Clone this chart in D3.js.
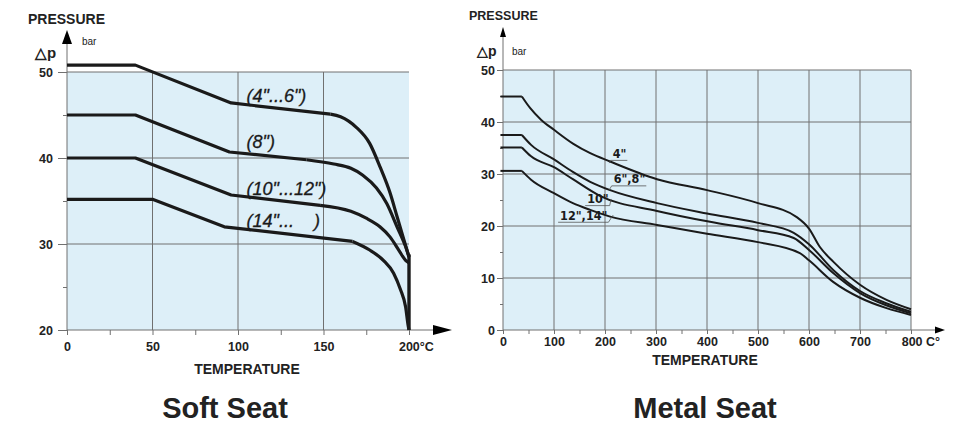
<!DOCTYPE html>
<html>
<head>
<meta charset="utf-8">
<script src="https://cdn.jsdelivr.net/npm/d3@7"></script>
<style>
    body { margin: 0; background: #fff; }
    svg { display: block; font-family: "Liberation Sans", Arial, Helvetica, sans-serif; }
</style>
</head>
<body>
<script>
// soft seat curves : [temperature °C, pressure bar]
var soft_4_6 = [[0, 50.8], [40, 50.8], [96, 46.4], [154, 45.1], [160, 44.8], [169, 43.6], [177, 41.7], [183, 39.0], [189, 35.9], [193, 33.2], [197, 30.5], [200, 28.5]];
var soft_8 = [[0, 45], [40, 45], [95, 40.7], [140, 39.8], [156, 39.3], [166, 38.8], [173, 38.0], [181, 36.5], [187, 34.7], [193, 32.0], [198, 29.7], [200, 28.5]];
var soft_10_12 = [[0, 40], [40, 40], [96, 35.7], [148, 34.5], [166, 33.8], [175, 33.0], [183, 32.0], [189, 30.8], [194, 29.3], [198, 28.1], [200, 27.8]];
var soft_14 = [[0, 35.2], [50, 35.2], [92, 32.0], [167, 30.3], [177, 29.3], [185, 28.1], [191, 26.6], [195, 24.7], [198, 22.7], [199.6, 20.4], [200, 20]];
var soft_edge = [[200, 28.8], [200, 20]];
var softBend = [154, 140, 148, 167];   // where the straight part ends
var softNames = ['(4"...6")', '(8")', '(10"...12")', '(14"...\u00a0\u00a0\u00a0\u00a0)'];
var softLabelT = [105, 105, 105, 105];
var softLabelV = [46.5, 41.2, 35.7, 32.0];
var softXticks = [0, 50, 100, 150, 200];
var softXminor = [25, 75, 125, 175];
var softYticks = [20, 30, 40, 50];
var softYminor = [25, 35, 45];

// metal seat curves
var metal_4 = [[-5, 44.9], [37, 44.9], [53, 42.7], [75, 40.4], [100, 38.5], [138, 35.8], [171, 34.0], [210, 32.4], [302, 29.0], [400, 26.9], [500, 24.4], [576, 21.7], [600, 19.5], [621, 16.0], [648, 13.1], [700, 8.7], [752, 5.8], [800, 4.0]];
var metal_6_8 = [[-5, 37.5], [37, 37.5], [55, 35.6], [100, 32.8], [137, 30.4], [171, 28.5], [210, 26.9], [302, 24.4], [400, 22.4], [500, 20.6], [570, 18.7], [600, 16.5], [648, 11.5], [700, 7.5], [750, 5.2], [800, 3.5]];
var metal_10 = [[-5, 35.1], [37, 35.1], [55, 33.4], [100, 31.3], [137, 29.0], [190, 25.8], [302, 22.9], [406, 20.8], [500, 19.2], [570, 17.7], [600, 15.4], [648, 10.9], [700, 7.1], [750, 4.8], [800, 3.2]];
var metal_12_14 = [[-5, 30.6], [37, 30.6], [55, 28.9], [100, 26.3], [137, 24.4], [171, 23.1], [210, 21.8], [302, 20.2], [400, 18.5], [500, 16.9], [582, 14.8], [600, 13.4], [648, 9.2], [700, 6.2], [752, 4.2], [800, 2.9]];
var metalBend = 37;
var metalNames = ['4"', '6",8"', '10"', '12",14"'];
var metalLabelT = [215, 217, 165, 112];
var metalLabelV = [33.1, 28.2, 24.4, 21.2];
var metalLeaderT = [208, 208, 212, 216];
var metalLeaderV = [32.1, 26.9, 25.2, 22.1];
var metalXticks = [0, 100, 200, 300, 400, 500, 600, 700, 800];
var metalXminor = [50, 150, 250, 350, 450, 550, 650, 750];
var metalYticks = [0, 10, 20, 30, 40, 50];
var metalYminor = [5, 15, 25, 35, 45];

var width = 959;
var height = 424;
var bg = "#ddeff8";
var grid = "#707070";
var ink = "#1a1a1a";

var svg = d3.select("body")
    .append("svg")
    .attr("width", width)
    .attr("height", height);

// ---------------- Soft seat ----------------
var xs = d3.scaleLinear().domain([0, 200]).range([67, 409]);
var ys = d3.scaleLinear().domain([20, 50]).range([330, 72]);

var soft = svg.append("g");

soft.append("rect")
    .attr("x", xs(0)).attr("y", ys(50))
    .attr("width", xs(200) - xs(0)).attr("height", ys(20) - ys(50))
    .attr("fill", bg);

soft.selectAll(".vg")
    .data([50, 100, 150])
    .enter().append("line")
    .attr("x1", function (d) { return xs(d); }).attr("x2", function (d) { return xs(d); })
    .attr("y1", ys(50)).attr("y2", ys(20))
    .attr("stroke", grid).attr("stroke-width", 1);

soft.selectAll(".hg")
    .data([30, 40, 50])
    .enter().append("line")
    .attr("x1", xs(0)).attr("x2", xs(200))
    .attr("y1", function (d) { return ys(d); }).attr("y2", function (d) { return ys(d); })
    .attr("stroke", grid).attr("stroke-width", 1);

// axes
var sx = soft.append("g")
    .attr("transform", "translate(0," + ys(20) + ")")
    .call(d3.axisBottom(xs).tickValues(softXticks).tickSize(5).tickPadding(7)
        .tickFormat(function (d) { return d == 200 ? "200°C" : d; }));
sx.selectAll("text").filter(function (d) { return d == 200; }).attr("dx", "0.55em");
soft.append("g")
    .attr("transform", "translate(0," + ys(20) + ")")
    .call(d3.axisBottom(xs).tickValues(softXminor).tickSize(5).tickFormat(""));
soft.append("g")
    .attr("transform", "translate(" + xs(0) + ",0)")
    .call(d3.axisLeft(ys).tickValues(softYticks).tickSize(9).tickPadding(5));
soft.append("g")
    .attr("transform", "translate(" + xs(0) + ",0)")
    .call(d3.axisLeft(ys).tickValues(softYminor).tickSize(4).tickFormat(""));

// axis lines + arrows
soft.append("line").attr("x1", xs(0)).attr("x2", 440).attr("y1", ys(20)).attr("y2", ys(20))
    .attr("stroke", grid);
soft.append("line").attr("x1", xs(0)).attr("x2", xs(0)).attr("y1", ys(20)).attr("y2", 40)
    .attr("stroke", grid);
soft.append("path").attr("d", "M452," + ys(20) + "L433," + (ys(20) - 5) + "L433," + (ys(20) + 5) + "Z")
    .attr("fill", "#000");
soft.append("path").attr("d", "M" + xs(0) + ",30L" + (xs(0) - 5) + ",44L" + (xs(0) + 5) + ",44Z")
    .attr("fill", "#000");

// curves
var lineS = d3.line().x(function (d) { return xs(d[0]); }).y(function (d) { return ys(d[1]); });
var softSeries = [soft_4_6, soft_8, soft_10_12, soft_14];
softSeries.forEach(function (s, i) {
    var head = s.filter(function (d) { return d[0] <= softBend[i]; });
    var tail = s.filter(function (d) { return d[0] >= softBend[i]; });
    soft.append("path").attr("d", lineS.curve(d3.curveLinear)(head))
        .attr("fill", "none").attr("stroke", ink).attr("stroke-width", 3.2).attr("stroke-linejoin", "round");
    soft.append("path").attr("d", lineS.curve(d3.curveMonotoneX)(tail))
        .attr("fill", "none").attr("stroke", ink).attr("stroke-width", 3.2).attr("stroke-linejoin", "round");
});
soft.append("path").attr("d", lineS.curve(d3.curveLinear)(soft_edge))
    .attr("fill", "none").attr("stroke", ink).attr("stroke-width", 3.4);

soft.selectAll(".lab")
    .data(softNames)
    .enter().append("text")
    .attr("x", function (d, i) { return xs(softLabelT[i]); })
    .attr("y", function (d, i) { return ys(softLabelV[i]); })
    .attr("font-size", 18).attr("font-style", "italic").attr("fill", ink)
    .attr("stroke", ink).attr("stroke-width", 0.3)
    .text(function (d) { return d; });

// ---------------- Metal seat ----------------
var xm = d3.scaleLinear().domain([0, 800]).range([503, 911]);
var ym = d3.scaleLinear().domain([0, 50]).range([330, 70]);

var metal = svg.append("g");

metal.append("rect")
    .attr("x", xm(0)).attr("y", ym(50))
    .attr("width", xm(800) - xm(0)).attr("height", ym(0) - ym(50))
    .attr("fill", bg);

metal.selectAll(".vg")
    .data(metalXticks.slice(1))
    .enter().append("line")
    .attr("x1", function (d) { return xm(d); }).attr("x2", function (d) { return xm(d); })
    .attr("y1", ym(50)).attr("y2", ym(0))
    .attr("stroke", grid).attr("stroke-width", 1);

metal.selectAll(".hg")
    .data(metalYticks.slice(1))
    .enter().append("line")
    .attr("x1", xm(0)).attr("x2", xm(800))
    .attr("y1", function (d) { return ym(d); }).attr("y2", function (d) { return ym(d); })
    .attr("stroke", grid).attr("stroke-width", 1);

var mx = metal.append("g")
    .attr("transform", "translate(0," + ym(0) + ")")
    .call(d3.axisBottom(xm).tickValues(metalXticks).tickSize(4).tickPadding(3)
        .tickFormat(function (d) { return d == 800 ? "800 C°" : d; }));
mx.selectAll("text").filter(function (d) { return d == 800; }).attr("dx", "0.75em");
metal.append("g")
    .attr("transform", "translate(0," + ym(0) + ")")
    .call(d3.axisBottom(xm).tickValues(metalXminor).tickSize(4).tickFormat(""));
metal.append("g")
    .attr("transform", "translate(" + xm(0) + ",0)")
    .call(d3.axisLeft(ym).tickValues(metalYticks).tickSize(6).tickPadding(2));
metal.append("g")
    .attr("transform", "translate(" + xm(0) + ",0)")
    .call(d3.axisLeft(ym).tickValues(metalYminor).tickSize(3).tickFormat(""));

metal.append("line").attr("x1", xm(0)).attr("x2", 937).attr("y1", ym(0)).attr("y2", ym(0))
    .attr("stroke", grid);
metal.append("line").attr("x1", xm(0)).attr("x2", xm(0)).attr("y1", ym(0)).attr("y2", 34)
    .attr("stroke", grid);
metal.append("path").attr("d", "M945," + ym(0) + "L935," + (ym(0) - 3.5) + "L935," + (ym(0) + 3.5) + "Z")
    .attr("fill", "#000");
metal.append("path").attr("d", "M" + xm(0) + ",27L" + (xm(0) - 3) + ",37L" + (xm(0) + 3) + ",37Z")
    .attr("fill", "#000");

var lineM = d3.line().x(function (d) { return xm(d[0]); }).y(function (d) { return ym(d[1]); });
var metalSeries = [metal_4, metal_6_8, metal_10, metal_12_14];
metalSeries.forEach(function (s) {
    var head = s.filter(function (d) { return d[0] <= metalBend; });
    var tail = s.filter(function (d) { return d[0] >= metalBend; });
    metal.append("path").attr("d", lineM.curve(d3.curveLinear)(head))
        .attr("fill", "none").attr("stroke", ink).attr("stroke-width", 2);
    metal.append("path").attr("d", lineM.curve(d3.curveMonotoneX)(tail))
        .attr("fill", "none").attr("stroke", ink).attr("stroke-width", 2);
});

// labels with underline and leader
metalNames.forEach(function (name, i) {
    var tx = xm(metalLabelT[i]);
    var ty = ym(metalLabelV[i]);
    var t = metal.append("text")
        .attr("x", tx).attr("y", ty)
        .attr("font-family", '"Liberation Sans Narrow", "DejaVu Sans Condensed", Arial, sans-serif')
        .attr("font-size", 12.5).attr("font-weight", "bold").attr("fill", ink)
        .text(name);
    var w = t.node().getComputedTextLength();
    var ux1 = tx - 2, ux2 = tx + w + 1, uy = ty + 2.5;
    metal.append("line").attr("x1", ux1).attr("x2", ux2).attr("y1", uy).attr("y2", uy)
        .attr("stroke", "#555").attr("stroke-width", 0.8);
    var lx = xm(metalLeaderT[i]) < ux1 + 1 ? ux1 : ux2;
    metal.append("line").attr("x1", lx).attr("y1", uy)
        .attr("x2", xm(metalLeaderT[i])).attr("y2", ym(metalLeaderV[i]))
        .attr("stroke", "#555").attr("stroke-width", 0.8);
});

// ---------------- styling of axes ----------------
svg.selectAll(".domain").remove();
svg.selectAll(".tick line").attr("stroke", grid);
svg.selectAll(".tick text")
    .attr("font-family", '"Liberation Sans", Arial, sans-serif')
    .attr("font-size", 12.5).attr("font-weight", "bold").attr("fill", "#222");

// ---------------- texts ----------------
function txt(x, y, s, size, weight, anchor) {
    svg.append("text")
        .attr("x", x).attr("y", y)
        .attr("font-size", size).attr("font-weight", weight || "normal")
        .attr("text-anchor", anchor || "start").attr("fill", "#222")
        .text(s);
}
txt(28, 23.5, "PRESSURE", 14, "bold");
txt(82, 45, "bar", 10);
txt(35, 58, "△p", 15, "bold");
txt(247, 374, "TEMPERATURE", 14, "bold", "middle");
txt(225, 418, "Soft Seat", 29, "bold", "middle");

txt(469, 19.5, "PRESSURE", 12.5, "bold");
txt(512, 55, "bar", 10);
txt(477, 56, "△p", 14, "bold");
txt(705, 365, "TEMPERATURE", 14, "bold", "middle");
txt(705, 418, "Metal Seat", 29, "bold", "middle");
</script>
</body>
</html>
